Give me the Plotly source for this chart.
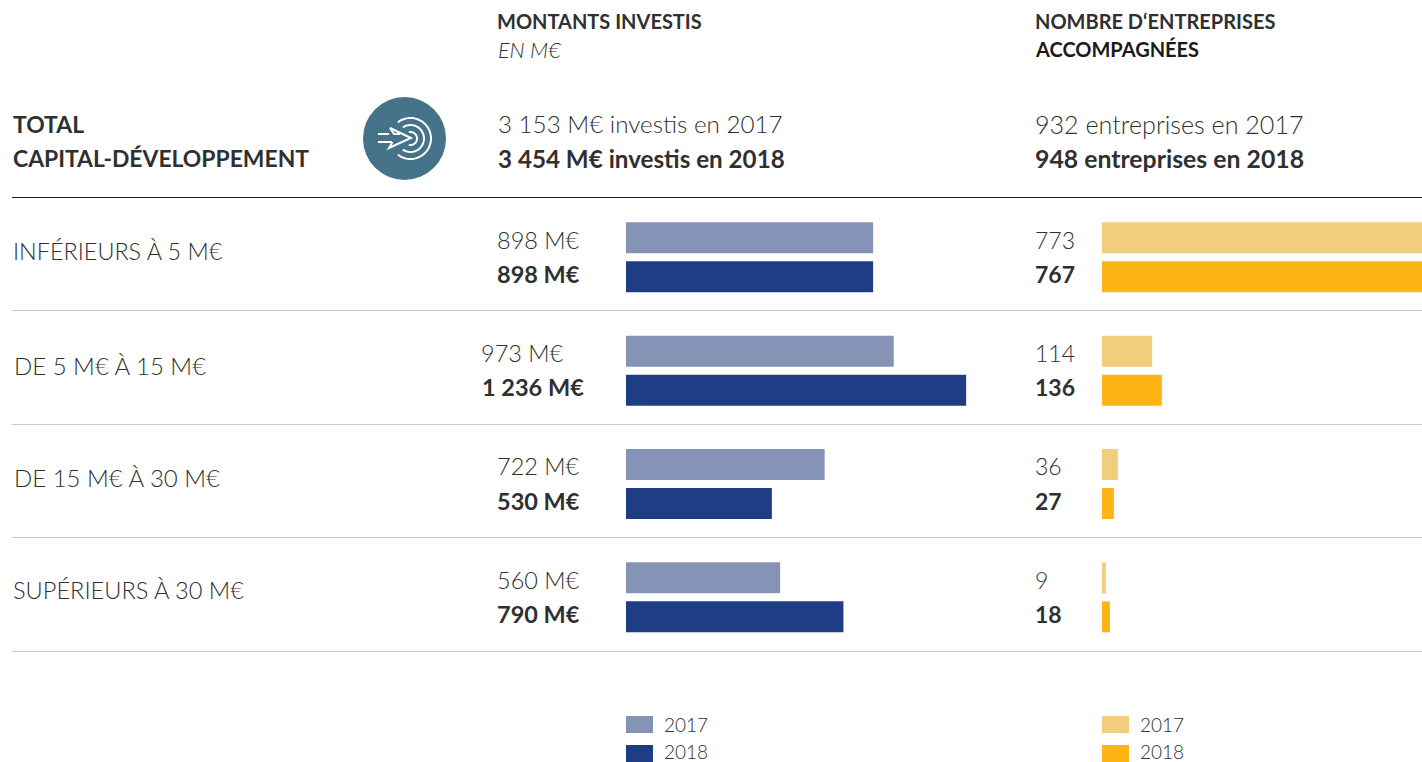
import numpy as np
import plotly.graph_objects as go

W, H = 1422, 762
categories = ["INFÉRIEURS À 5 M€", "DE 5 M€ À 15 M€", "DE 15 M€ À 30 M€", "SUPÉRIEURS À 30 M€"]
invest_2017 = [898, 973, 722, 560]
invest_2018 = [898, 1236, 530, 790]
invest_2017_labels = ["898 M€", "973 M€", "722 M€", "560 M€"]
invest_2018_labels = ["898 M€", "1 236 M€", "530 M€", "790 M€"]
firms_2017 = [773, 114, 36, 9]
firms_2018 = [767, 136, 27, 18]
years = ["2017", "2018"]

C17, C18 = "#8593B7", "#1F3D85"
Y17, Y18 = "#F0CE7E", "#FDB515"
TXT = "#303030"
DARK = "#303030"
FONT = "Lato"
LIGHT = 300
SEP = "#BCCBD6"
TEAL = "#44738A"

px = lambda v: v / W
py = lambda v: 1 - v / H

fig = go.Figure()
for name, vals, col, ax, ay in [
    ("2017", invest_2017, C17, "x", "y"), ("2018", invest_2018, C18, "x", "y"),
    ("2017", firms_2017, Y17, "x2", "y2"), ("2018", firms_2018, Y18, "x2", "y2")]:
    fig.add_trace(go.Bar(y=categories, x=vals, name=name, orientation="h",
                         marker=dict(color=col, line=dict(width=0)), xaxis=ax, yaxis=ay,
                         showlegend=False, hoverinfo="x+name"))

shapes, ann = [], []

def text(x, y, s, size=22, bold=False, italic=False, color=None, anchor="left"):
    ann.append(dict(xref="paper", yref="paper", x=px(x - 1), y=py(y - 1), text=s, showarrow=False,
                    xanchor=anchor, yanchor="middle", borderpad=0,
                    font=dict(family=FONT, size=size, color=color or (DARK if bold else TXT),
                              weight=700 if bold else LIGHT,
                              style="italic" if italic else "normal")))

def rect(x0, y0, x1, y1, color):
    shapes.append(dict(type="rect", xref="paper", yref="paper", x0=px(x0), x1=px(x1),
                       y0=py(y0), y1=py(y1), fillcolor=color, line=dict(width=0)))

def line(x0, y0, x1, y1, color, w=1):
    shapes.append(dict(type="line", xref="paper", yref="paper", x0=px(x0), x1=px(x1),
                       y0=py(y0), y1=py(y1), line=dict(color=color, width=w)))

def poly(points, w=2):
    d = "M" + " L".join(f"{px(a):.5f},{py(b):.5f}" for a, b in points)
    shapes.append(dict(type="path", xref="paper", yref="paper", path=d,
                       line=dict(color="white", width=w)))

# headers
text(497, 22, "MONTANTS INVESTIS", 20, bold=True)
text(498, 51, "EN M€", 21.5, italic=True)
text(1035, 22, "NOMBRE D‘ENTREPRISES", 20, bold=True)
text(1035, 50, "ACCOMPAGNÉES", 20, bold=True, color="#1a1a1a")
text(13, 125, "TOTAL", 22.9, bold=True)
text(13, 159, "CAPITAL-DÉVELOPPEMENT", 22.9, bold=True)
text(498, 125, "3 153 M€ investis en 2017", 24.2)
text(498, 159, "3 454 M€ investis en 2018", 24.2, bold=True)
text(1035, 125, "932 entreprises en 2017", 25.1)
text(1035, 159, "948 entreprises en 2018", 24.8, bold=True)

# rows
line(12, 197.5, 1422, 197.5, "#222222", 1)
row_y = [252.4, 366.4, 478.4, 591.4]
row_x = [13, 14, 14, 13]
row_size = [23.4, 24, 24, 23.6]
lbl_x = [497, 481, 497, 497]
lbl_x18 = [497, 482, 497, 497]
y17 = [241, 354, 467, 581]
y18 = [275, 388, 502, 615]
for i, c in enumerate(categories):
    text(row_x[i], row_y[i], c, row_size[i])
    text(lbl_x[i], y17[i], invest_2017_labels[i], 23.5)
    text(lbl_x18[i], y18[i], invest_2018_labels[i], 23.5, bold=True)
    text(1035, y17[i], str(firms_2017[i]), 23)
    text(1035, y18[i], str(firms_2018[i]), 23, bold=True)
for yy in [310.5, 424.5, 537.5, 651.5]:
    line(12, yy, 1422, yy, SEP, 1.2)

# legends
for x0, (a, b) in zip([626, 1102], [(C17, C18), (Y17, Y18)]):
    rect(x0, 716, x0 + 27, 733, a)
    rect(x0, 745, x0 + 27, 762, b)
    text(x0 + 38, 725, years[0], 19)
    text(x0 + 38, 752, years[1], 19)

# icon
shapes.append(dict(type="circle", xref="paper", yref="paper", x0=px(363), x1=px(446),
                   y0=py(180), y1=py(97), fillcolor=TEAL, line=dict(width=0)))
for r, a0 in [(20.5, 128), (13.5, 125), (6.5, 105)]:
    t = np.radians(np.linspace(-a0, a0, 48))
    poly([(410.5 + r * np.cos(v), 138.5 + r * np.sin(v)) for v in t], 2)
poly([(378, 134), (389, 134)])
poly([(378, 142), (392, 142)])
poly([(390, 128), (411, 138), (389, 148), (392.5, 142)])
poly([(390, 128), (394, 134), (400, 134)])

yaxis_common = dict(domain=[py(654), py(200.67)], autorange="reversed", visible=False,
                    categoryorder="array", categoryarray=categories, fixedrange=True)
fig.update_layout(
    width=W, height=H, autosize=False, margin=dict(l=0, r=0, t=0, b=0),
    paper_bgcolor="white", plot_bgcolor="white",
    barmode="group", bargap=0.312, bargroupgap=0.205,
    xaxis=dict(domain=[px(626), px(1090)], range=[0, 464 / 0.2752], visible=False, fixedrange=True),
    xaxis2=dict(domain=[px(1102), 1], range=[0, 320 / 0.44], visible=False, fixedrange=True),
    yaxis=dict(**yaxis_common),
    yaxis2=dict(**yaxis_common),
    shapes=shapes, annotations=ann, showlegend=False,
    font=dict(family=FONT),
)
fig.write_html("out.html", config={"displayModeBar": False},
               post_script="document.body.style.margin='0';document.body.style.overflow='hidden';")
